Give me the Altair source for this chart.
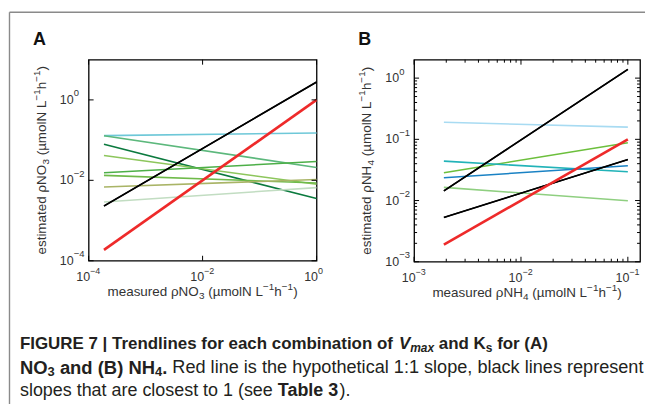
import altair as alt
import pandas as pd

# ---------------- data ----------------
# Panel A (NO3): every trendline runs over the same measured range
A_x = [1.86e-4, 1.0]
A_names = ["cyan", "medgreen", "darkgreen", "yellowgreen", "green1", "green2",
           "olive", "palegreen", "blackA"]
A_ystart = [0.129, 0.129, 0.0787, 0.0414, 0.0154, 0.0133, 0.0068, 0.0029, 0.0023]
A_yend = [0.150, 0.0209, 0.00352, 0.0080, 0.0294, 0.0086, 0.0105, 0.0066, 2.78]
A_colors = ["#6ec8d8", "#5cb87c", "#0b7a3e", "#8dc65c", "#4daf48", "#6fba4a",
            "#a9b466", "#c2ddc2", "#000000"]
A_red = [1.86e-4, 1.0]          # hypothetical 1:1 line (y = x)

# Panel B (NH4)
B_x = [0.0019, 0.1]
B_names = ["lightblue", "brightgreen", "teal", "blue", "lightgreen", "black1", "black2"]
B_ystart = [0.19, 0.0284, 0.044, 0.0236, 0.0164, 0.0144, 0.0053]
B_yend = [0.158, 0.088, 0.0295, 0.0369, 0.0099, 1.39, 0.0467]
B_colors = ["#a8dbf2", "#6cbf3c", "#22b3b8", "#1a82c4", "#8fcf80", "#000000", "#000000"]
B_red = [0.0019, 0.1]

# axis ticks and their labels (10^exponent)
A_xticks = [1e-4, 1e-2, 1.0]
A_xexp = ["−4", "−2", "0"]
A_yticks = [1e-4, 1e-2, 1.0]
A_yexp = ["−4", "−2", "0"]
B_xticks = [1e-3, 1e-2, 1e-1]
B_xexp = ["−3", "−2", "−1"]
B_xminor = [2e-3, 3e-3, 4e-3, 5e-3, 6e-3, 7e-3, 8e-3, 9e-3,
            2e-2, 3e-2, 4e-2, 5e-2, 6e-2, 7e-2, 8e-2, 9e-2]
B_yticks = [1e-3, 1e-2, 1e-1, 1.0]
B_yexp = ["−3", "−2", "−1", "0"]
B_yminor = [2e-3, 3e-3, 4e-3, 5e-3, 6e-3, 7e-3, 8e-3, 9e-3,
            2e-2, 3e-2, 4e-2, 5e-2, 6e-2, 7e-2, 8e-2, 9e-2,
            2e-1, 3e-1, 4e-1, 5e-1, 6e-1, 7e-1, 8e-1, 9e-1]

# texts: (piece, kind) with kind n = normal, b = subscript, p = superscript
A_xtitle = [("measured ρNO", "n"), ("3", "b"), (" (µmolN L", "n"), ("−1", "p"),
            ("h", "n"), ("−1", "p"), (")", "n")]
A_ytitle = [("estimated ρNO", "n"), ("3", "b"), (" (µmolN L", "n"), ("−1", "p"),
            ("h", "n"), ("−1", "p"), (")", "n")]
B_xtitle = [("measured ρNH", "n"), ("4", "b"), (" (µmolN L", "n"), ("−1", "p"),
            ("h", "n"), ("−1", "p"), (")", "n")]
B_ytitle = [("estimated ρNH", "n"), ("4", "b"), (" (µmolN L", "n"), ("−1", "p"),
            ("h", "n"), ("−1", "p"), (")", "n")]

caption1 = [("FIGURE 7 | Trendlines for each combination of ", "n", "bold", "normal"),
            ("V", "n", "bold", "italic"), ("max", "b", "bold", "italic"),
            (" and K", "n", "bold", "normal"), ("s", "b", "bold", "normal"),
            (" for (A)", "n", "bold", "normal")]
caption2 = [("NO", "n", "bold", "normal"), ("3", "b", "bold", "normal"),
            (" and (B) NH", "n", "bold", "normal"), ("4", "b", "bold", "normal"),
            (".", "n", "bold", "normal"),
            (" Red line is the hypothetical 1:1 slope, black lines represent", "r",
             "normal", "normal")]
caption3 = [("slopes that are closest to 1 (see ", "n", "normal", "normal"),
            ("Table 3", "n", "bold", "normal"), (").", "n", "normal", "normal")]

FONT = "Liberation Sans"
TXT = "#333333"

# Arial / Liberation Sans advance widths (1/1000 em)
W_REG = {'m': 833, 'e': 556, 'a': 556, 's': 500, 'u': 556, 'r': 333, 'd': 556, ' ': 278,
         'ρ': 578, 'N': 722, 'O': 778, 'H': 722, '(': 333, ')': 333, 'µ': 576, 'o': 556,
         'l': 222, 'L': 556, 'h': 556, '−': 584, 't': 278, 'i': 222, 'p': 556, 'c': 500,
         'T': 611, 'b': 556, '.': 278, ',': 278, ':': 278, 'y': 500, 'k': 500, 'n': 556,
         'R': 722, 'x': 500, 'f': 278}
W_BOLD = {'F': 611, 'I': 278, 'G': 778, 'U': 722, 'R': 722, 'E': 667, ' ': 278, '|': 280,
          'T': 611, 'r': 389, 'e': 556, 'n': 611, 'd': 611, 'l': 278, 'i': 278, 's': 556,
          'f': 333, 'o': 611, 'a': 556, 'c': 556, 'h': 611, 'm': 889, 'b': 611, 't': 333,
          '(': 333, ')': 333, 'A': 722, 'V': 667, 'x': 556, 'K': 722, 'N': 722, 'O': 778,
          'B': 722, 'H': 722, '.': 278}


def width(text, size, bold=False):
    tab = W_BOLD if bold else W_REG
    return sum(tab.get(ch, 556) for ch in text) * size / 1000.0


def one(t, x, y, size, weight="normal", style="normal", align="left", angle=0,
        color=TXT):
    return alt.Chart(pd.DataFrame({"t": [t]})).mark_text(
        fontSize=size, fontWeight=weight, fontStyle=style, font=FONT, align=align,
        baseline="middle", angle=angle, color=color).encode(
        text="t:N", x=alt.value(x), y=alt.value(y))


def lead_width(t, size):
    n = len(t) - len(t.lstrip(" "))
    return n * 0.278 * size


def rich_title(pieces, cx, cy, size, ssize, vertical=False):
    """Axis title with sub/superscripts, centred on (cx, cy)."""
    ws = [width(t, size if k == "n" else ssize) for t, k in pieces]
    total = sum(ws)
    out = []
    pos = 0.0
    for (t, k), w in zip(pieces, ws):
        shift = 0 if k == "n" else (4 if k == "b" else -5)
        fs = size if k == "n" else ssize
        p = pos + lead_width(t, fs)
        if vertical:
            out.append(one(t.strip(), cx + shift, cy + total / 2 - p, fs, angle=270))
        else:
            out.append(one(t.strip(), cx - total / 2 + p, cy + shift, fs))
        pos += w
    return out


def rich_line(pieces, x0, y, size, ssize, rsize=None, color="#231f20"):
    out = []
    pos = 0.0
    for t, k, weight, style in pieces:
        if k == "r":
            fs = rsize or size
        else:
            fs = size if k == "n" else ssize
        shift = 4.5 if k == "b" else 0
        p = pos + lead_width(t, fs)
        out.append(one(t.strip(), x0 + p, y + shift, fs, weight=weight, style=style,
                       color=color))
        pos += width(t, fs, bold=(weight == "bold"))
    return out


def lines_df(names, xs, ys0, ys1):
    rows = []
    for n, a, b in zip(names, ys0, ys1):
        rows.append({"s": n, "x": xs[0], "y": a})
        rows.append({"s": n, "x": xs[1], "y": b})
    return pd.DataFrame(rows)


def panel(names, xs, ys0, ys1, colors, red, xdom, ydom, xt, xe, yt, ye, xmin, ymin,
          W, H, xtitle, ytitle, letter, extra=None):
    xs_scale = alt.Scale(type="log", domain=xdom, nice=False)
    ys_scale = alt.Scale(type="log", domain=ydom, nice=False)
    noaxis = alt.Axis(labels=False, ticks=False, domain=False, grid=False, title=None)

    df = lines_df(names, xs, ys0, ys1)
    base = alt.Chart(df).mark_line(strokeWidth=1.6).encode(
        x=alt.X("x:Q", scale=xs_scale, axis=noaxis),
        y=alt.Y("y:Q", scale=ys_scale, axis=noaxis),
        color=alt.Color("s:N", scale=alt.Scale(domain=names, range=colors), legend=None),
        detail="s:N",
    )
    black = alt.Chart(df[df["s"].str.startswith("black")]).mark_line(
        strokeWidth=1.4, color="black").encode(x="x:Q", y="y:Q", detail="s:N")
    rdf = pd.DataFrame({"x": red, "y": red})
    redl = alt.Chart(rdf).mark_line(strokeWidth=2.6, color="#ee2a2a").encode(x="x:Q", y="y:Q")

    layers = [base, black, redl]

    # inward tick marks (Matlab style)
    def xticks(vals, size):
        d = pd.DataFrame({"v": vals})
        return [
            alt.Chart(d).mark_rule(color="black", strokeWidth=1).encode(
                x="v:Q", y=alt.value(H), y2=alt.value(H - size)),
            alt.Chart(d).mark_rule(color="black", strokeWidth=1).encode(
                x="v:Q", y=alt.value(0), y2=alt.value(size)),
        ]

    def yticks(vals, size):
        d = pd.DataFrame({"v": vals})
        return [
            alt.Chart(d).mark_rule(color="black", strokeWidth=1).encode(
                y="v:Q", x=alt.value(0), x2=alt.value(size)),
            alt.Chart(d).mark_rule(color="black", strokeWidth=1).encode(
                y="v:Q", x=alt.value(W), x2=alt.value(W - size)),
        ]

    layers += xticks(xt, 5) + yticks(yt, 5)
    if xmin:
        layers += xticks(xmin, 3)
    if ymin:
        layers += yticks(ymin, 3)

    # tick labels "10" + superscript exponent
    dx_ = pd.DataFrame({"v": xt, "e": xe, "b": ["10"] * len(xt)})
    dy_ = pd.DataFrame({"v": yt, "e": ye, "b": ["10"] * len(yt)})
    layers += [
        alt.Chart(dx_).mark_text(font=FONT, fontSize=12.5, align="right", baseline="middle",
                                 dx=1.5, color=TXT).encode(
            x="v:Q", y=alt.value(H + 16.5), text="b:N"),
        alt.Chart(dx_).mark_text(font=FONT, fontSize=9, align="left", baseline="middle",
                                 dx=1.5, color=TXT).encode(
            x="v:Q", y=alt.value(H + 10), text="e:N"),
        alt.Chart(dy_).mark_text(font=FONT, fontSize=12.5, align="right", baseline="middle",
                                 color=TXT).encode(
            y="v:Q", x=alt.value(-15), text="b:N"),
        alt.Chart(dy_).mark_text(font=FONT, fontSize=9.5, align="left", baseline="middle",
                                 dy=-6.5, color=TXT).encode(
            y="v:Q", x=alt.value(-15), text="e:N"),
    ]

    layers += rich_title(xtitle, W / 2, H + 31, 13.5, 10)
    layers += rich_title(ytitle, -47, H / 2, 13.5, 10, vertical=True)

    layers.append(one(letter, -49.5, -20, 18, weight="bold", align="center", color="#111"))
    if extra:
        layers += extra
    return alt.layer(*layers).properties(width=W, height=H)


frame = [
    alt.Chart(pd.DataFrame({"t": [0]})).mark_rule(color="#8a8a8a", strokeWidth=1.4).encode(
        x=alt.value(-79.5), y=alt.value(-47.7), y2=alt.value(346)),
    alt.Chart(pd.DataFrame({"t": [0]})).mark_rule(color="#8a8a8a", strokeWidth=1.4).encode(
        x=alt.value(-79.5), x2=alt.value(559), y=alt.value(-47.7)),
]
caption = (rich_line(caption1, -69, 285.5, 17, 12)
           + rich_line(caption2, -69, 309.5, 18.5, 13, rsize=18.2)
           + rich_line(caption3, -69, 332.5, 18, 12))

panelA = panel(A_names, A_x, A_ystart, A_yend, A_colors, A_red,
               [1e-4, 1.0], [1e-4, 10.0], A_xticks, A_xexp, A_yticks, A_yexp, None, None,
               229, 202, A_xtitle, A_ytitle, "A", extra=frame + caption)
panelB = panel(B_names, B_x, B_ystart, B_yend, B_colors, B_red,
               [1e-3, 0.13], [1e-3, 2.0], B_xticks, B_xexp, B_yticks, B_yexp,
               B_xminor, B_yminor, 227, 203, B_xtitle, B_ytitle, "B")

chart = alt.hconcat(panelA, panelB, spacing=98, bounds="flush").resolve_scale(
    color="independent"
).properties(
    padding={"left": 0, "top": 1, "right": 0, "bottom": 0}
).configure(font=FONT).configure_view(stroke="black", strokeWidth=1.3)

chart.save("out.html", embed_options={"renderer": "svg", "actions": False})
